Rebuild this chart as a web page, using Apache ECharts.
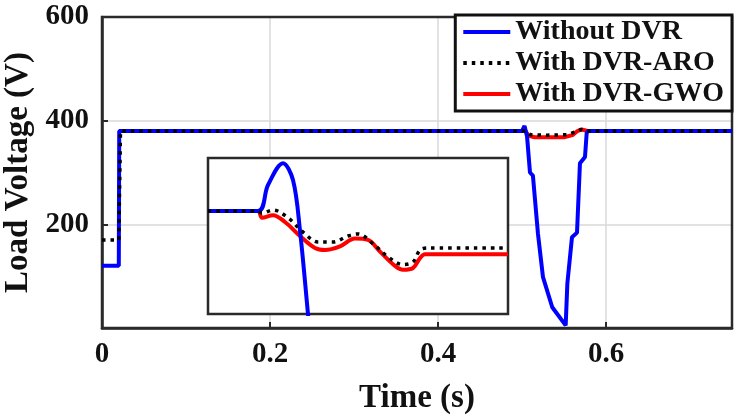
<!DOCTYPE html>
<html>
<head>
<meta charset="utf-8">
<script src="https://cdn.jsdelivr.net/npm/echarts@6/dist/echarts.min.js"></script>
<style>html,body{margin:0;padding:0;background:#fff}#c{width:742px;height:419px}</style>
</head>
<body>
<div id="c"></div>
<script>
// ---- data ----
var seriesNames = ['Without DVR', 'With DVR-ARO', 'With DVR-GWO'];
var xTickLabels = ['0', '0.2', '0.4', '0.6'];
var yTickLabels = ['200', '400', '600'];

// main plot: time (s) / load voltage (V)
var tBlue = [0, 0.02, 0.0205, 0.5, 0.503, 0.506, 0.5095, 0.513, 0.519, 0.525, 0.536, 0.552, 0.554, 0.5595, 0.5655, 0.569, 0.575, 0.577, 0.579, 0.75];
var vBlue = [120, 120, 380, 380, 390, 370, 300, 294, 182, 98, 40, 5, 86, 175, 184, 318, 330, 376, 380, 380];
var tAro = [0, 0.02, 0.022, 0.505, 0.51, 0.53, 0.555, 0.563, 0.57, 0.578, 0.75];
var vAro = [170, 170, 380, 380, 373, 372, 373, 378, 383, 380, 380];
var tGwo = [0.02, 0.504, 0.508, 0.515, 0.55, 0.56, 0.566, 0.571, 0.578, 0.75];
var vGwo = [380, 380, 371, 368, 368, 372, 380, 383, 380, 380];

// inset (zoomed view)
var tInBlue = [0.48, 0.50, 0.504, 0.51, 0.514, 0.5168, 0.52, 0.522];
var vInBlue = [379.6, 379.6, 389.6, 398, 391.5, 372, 340, 320];
var tInAro = [0.48, 0.50, 0.5016, 0.506, 0.512, 0.518, 0.524, 0.53, 0.536, 0.54, 0.546, 0.552, 0.558, 0.562, 0.5648, 0.568, 0.60];
var vInAro = [379.6, 379.6, 378.8, 380, 377, 371.5, 367.7, 367.7, 370, 370.8, 367, 362, 359, 360, 364.6, 365.4, 365.4];
var tInGwo = [0.48, 0.50, 0.5016, 0.506, 0.5108, 0.5168, 0.5228, 0.5268, 0.5328, 0.5388, 0.544, 0.5488, 0.5548, 0.558, 0.562, 0.5648, 0.5668, 0.60];
var vInGwo = [379.6, 379.6, 377, 378, 375.4, 370, 365.4, 364.6, 366, 369, 368.5, 364, 358.5, 357, 357.7, 361.5, 363, 363];

function zip(a, b) { return a.map(function (v, i) { return [v, b[i]]; }); }

var FONT = 'Liberation Serif';
var dark = '#2a2a2a';
var blue = '#0000ff', red = '#ff0000', black = '#000000';

var chart = echarts.init(document.getElementById('c'), null, {renderer: 'canvas'});
chart.setOption({
  animation: false,
  backgroundColor: '#fff',
  legend: {
    data: seriesNames,
    orient: 'vertical',
    right: 10,
    top: 15,
    padding: [3, 8, 3, 6],
    itemGap: 3,
    itemWidth: 47,
    itemHeight: 14,
    backgroundColor: '#fff',
    borderColor: '#111',
    borderWidth: 3,
    borderRadius: 0,
    z: 10,
    itemStyle: {opacity: 0},
    lineStyle: {width: 4},
    textStyle: {fontFamily: FONT, fontWeight: 'bold', fontSize: 28, color: '#111', lineHeight: 28, padding: [0, 0, 0, 0]}
  },
  grid: [
    {left: 102, right: 10, top: 17, bottom: 91, show: true, borderColor: dark, borderWidth: 2.5, backgroundColor: 'transparent', z: 1, containLabel: false, outerBoundsMode: 'none'},
    {left: 208, top: 158, width: 300, height: 156, show: true, borderColor: dark, borderWidth: 2.5, backgroundColor: '#fff', z: 1, containLabel: false, outerBoundsMode: 'none'}
  ],
  xAxis: [
    {
      type: 'value', gridIndex: 0, min: 0, max: 0.75, interval: 0.2,
      name: 'Time (s)', nameLocation: 'middle', nameGap: 54,
      nameTextStyle: {fontFamily: FONT, fontWeight: 'bold', fontSize: 33, color: '#111'},
      axisLine: {show: true, lineStyle: {color: dark, width: 2.5}},
      axisTick: {show: true, inside: true, length: 6, lineStyle: {color: dark, width: 2}},
      splitLine: {show: true, showMaxLine: false, lineStyle: {color: '#d9d9d9', width: 1.5}},
      axisLabel: {
        showMaxLabel: false, margin: 12,
        fontFamily: FONT, fontWeight: 'bold', fontSize: 29, color: '#111',
        formatter: function (v) { var i = Math.round(v / 0.2); return Math.abs(v - i * 0.2) < 1e-6 && xTickLabels[i] !== undefined ? xTickLabels[i] : ''; }
      }
    },
    {type: 'value', gridIndex: 1, min: 0.48, max: 0.60, show: false, splitLine: {show: false}}
  ],
  yAxis: [
    {
      type: 'value', gridIndex: 0, min: 0, max: 600, interval: 200,
      name: 'Load Voltage (V)', nameLocation: 'middle', nameGap: 61,
      nameTextStyle: {fontFamily: FONT, fontWeight: 'bold', fontSize: 33, color: '#111'},
      axisLine: {show: true, lineStyle: {color: dark, width: 2.5}},
      axisTick: {show: true, inside: true, length: 6, lineStyle: {color: dark, width: 2}},
      splitLine: {show: true, showMaxLine: false, lineStyle: {color: '#d9d9d9', width: 1.5}},
      axisLabel: {
        showMinLabel: false, margin: 13,
        fontFamily: FONT, fontWeight: 'bold', fontSize: 29, color: '#111',
        formatter: function (v) { var i = Math.round(v / 200) - 1; return yTickLabels[i] !== undefined ? yTickLabels[i] : ''; }
      }
    },
    {type: 'value', gridIndex: 1, min: 340, max: 400, show: false, splitLine: {show: false}}
  ],
  series: [
    {name: seriesNames[2], type: 'line', xAxisIndex: 0, yAxisIndex: 0, data: zip(tGwo, vGwo), symbol: 'none', z: 2,
     lineStyle: {color: red, width: 4}, itemStyle: {color: red}},
    {name: seriesNames[0], type: 'line', xAxisIndex: 0, yAxisIndex: 0, data: zip(tBlue, vBlue), symbol: 'none', z: 3,
     lineStyle: {color: blue, width: 4}, itemStyle: {color: blue}},
    {name: seriesNames[1], type: 'line', xAxisIndex: 0, yAxisIndex: 0, data: zip(tAro, vAro), symbol: 'none', z: 4,
     lineStyle: {color: black, width: 3.5, type: [3.5, 5], cap: 'butt'}, itemStyle: {color: black}},
    {name: seriesNames[2], type: 'line', xAxisIndex: 1, yAxisIndex: 1, data: zip(tInGwo, vInGwo), symbol: 'none', z: 5, smooth: 0.35,
     lineStyle: {color: red, width: 4}, itemStyle: {color: red}},
    {name: seriesNames[0], type: 'line', xAxisIndex: 1, yAxisIndex: 1, data: zip(tInBlue, vInBlue), symbol: 'none', z: 6, smooth: 0.35,
     lineStyle: {color: blue, width: 4}, itemStyle: {color: blue}},
    {name: seriesNames[1], type: 'line', xAxisIndex: 1, yAxisIndex: 1, data: zip(tInAro, vInAro), symbol: 'none', z: 7, smooth: 0.35,
     lineStyle: {color: black, width: 3.5, type: [3.5, 5], cap: 'butt'}, itemStyle: {color: black}}
  ]
});
</script>
</body>
</html>
